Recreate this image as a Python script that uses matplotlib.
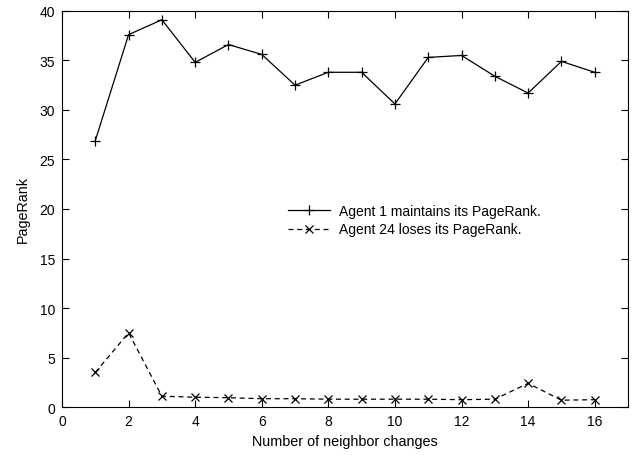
import matplotlib
matplotlib.use("Agg")
import matplotlib.pyplot as plt

plt.rcParams["font.family"] = ["Liberation Sans", "DejaVu Sans"]
plt.rcParams["font.size"] = 10

changes = list(range(1, 17))
agent1 = [26.9, 37.6, 39.1, 34.8, 36.6, 35.6, 32.5, 33.8, 33.8, 30.6,
          35.3, 35.5, 33.4, 31.7, 34.9, 33.8]
agent24 = [3.5, 7.5, 1.1, 1.0, 0.95, 0.85, 0.85, 0.8, 0.8, 0.8,
           0.8, 0.75, 0.8, 2.4, 0.7, 0.75]

fig = plt.figure(figsize=(6.34, 4.56), dpi=100)
ax = fig.add_axes([0.0978, 0.105, 0.8927, 0.869])

ax.plot(changes, agent1, color="black", lw=0.9, marker="+", ms=7, mew=0.9,
        label="Agent 1 maintains its PageRank.")
ax.plot(changes, agent24, color="black", lw=0.9, ls=(0, (4, 3)), marker="x", ms=6, mew=0.9,
        label="Agent 24 loses its PageRank.")

ax.set_xlim(0, 17)
ax.set_ylim(0, 40)
ax.set_xticks(range(0, 17, 2))
ax.set_yticks(range(0, 41, 5))
ax.tick_params(direction="in", top=True, right=True, length=5, width=0.8,
               labelsize=10, pad=5)
for s in ax.spines.values():
    s.set_linewidth(0.8)

ax.set_xlabel("Number of neighbor changes", fontsize=10.4, labelpad=4)
ax.set_ylabel("PageRank", fontsize=10.4, labelpad=7)

# legend placed in the middle of the plot, like gnuplot's "set key"
ax.legend(loc="center left", bbox_to_anchor=(288 / 634, 1 - 221 / 456),
          bbox_transform=fig.transFigure, frameon=False, fontsize=10,
          handlelength=3.0, handletextpad=0.65, labelspacing=0.35,
          borderpad=0, borderaxespad=0)

fig.savefig("out.png", dpi=100)
